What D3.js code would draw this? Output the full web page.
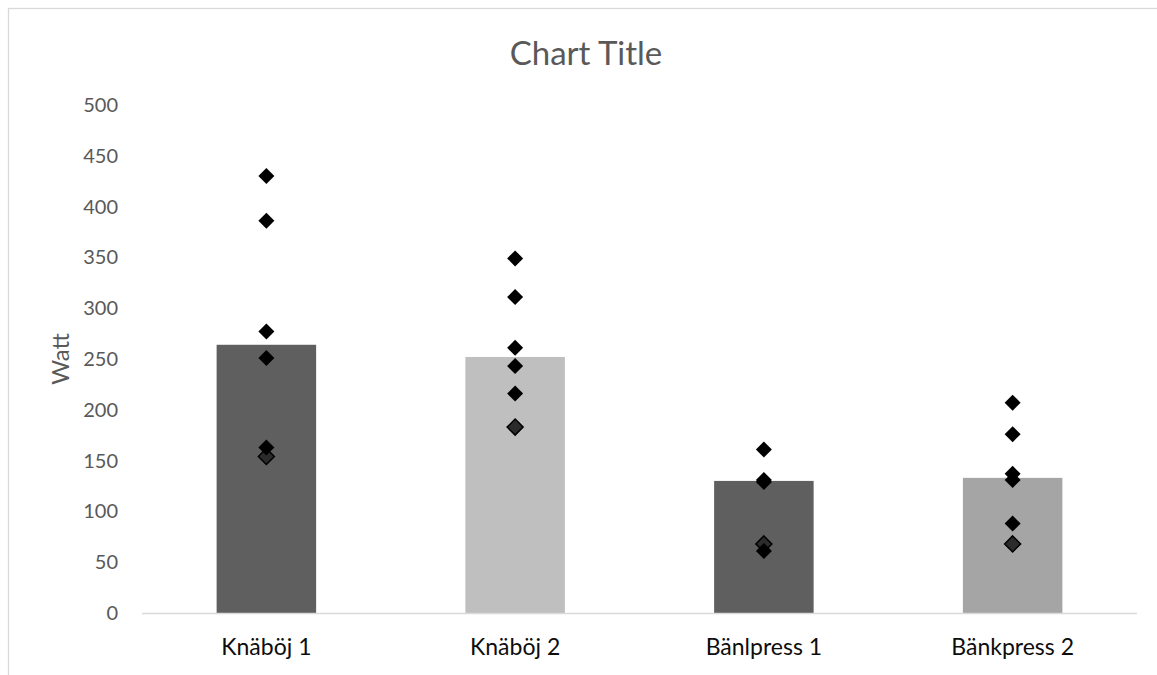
<!DOCTYPE html>
<html>
<head>
<meta charset="utf-8">
<script src="https://cdn.jsdelivr.net/npm/d3@7"></script>
<style>
  html, body { margin: 0; padding: 0; background: #fff; }
  svg { display: block; }
  text { font-family: Lato, "Open Sans", sans-serif; }
</style>
</head>
<body>
<svg id="chart" width="1157" height="675"></svg>
<script>
const categories = ["Knäböj 1", "Knäböj 2", "Bänlpress 1", "Bänkpress 2"];
const barValues = [264, 252, 130, 133];
const barColors = ["#5f5f5f", "#bfbfbf", "#5f5f5f", "#a5a5a5"];
// individual observations per category (first one drawn with dark grey fill)
const points1 = [154, 183, 68, 68];
const pointsRest = [
  [163, 251, 277, 386, 430],
  [216, 243, 261, 311, 349],
  [61, 129, 131, 161],
  [88, 131, 137, 176, 207]
];
const yTicks = [0, 50, 100, 150, 200, 250, 300, 350, 400, 450, 500];
const title = "Chart Title";
const yLabel = "Watt";

const svg = d3.select("#chart");
const W = 1157, H = 675;
const plot = { left: 142, right: 1137, top: 105, bottom: 613 };

// outer chart border
svg.append("rect")
  .attr("x", 8.5).attr("y", 8.5)
  .attr("width", W + 10).attr("height", H + 10)
  .attr("fill", "none").attr("stroke", "#d9d9d9").attr("stroke-width", 1.3);

const x = d3.scaleBand().domain(categories)
  .range([plot.left, plot.right]).paddingInner(0.6).paddingOuter(0.3);
const y = d3.scaleLinear().domain([0, 500]).range([plot.bottom, plot.top]);

// title
svg.append("text")
  .attr("x", 586).attr("y", 65)
  .attr("text-anchor", "middle")
  .attr("font-size", 33).attr("fill", "#595959")
  .text(title);

// y axis label
svg.append("text")
  .attr("transform", `translate(69, 359) rotate(-90)`)
  .attr("text-anchor", "middle")
  .attr("font-size", 24).attr("fill", "#595959")
  .text(yLabel);

// y axis tick labels
const yAxis = d3.axisLeft(y).tickValues(yTicks).tickSize(0).tickPadding(0);
const gy = svg.append("g").attr("transform", `translate(118,0)`).call(yAxis);
gy.select(".domain").remove();
gy.selectAll("text")
  .attr("font-size", 20).attr("fill", "#595959")
  .attr("font-family", "Lato, 'Open Sans', sans-serif");

// bars
svg.append("g").selectAll("rect")
  .data(categories)
  .join("rect")
  .attr("x", d => x(d))
  .attr("width", x.bandwidth())
  .attr("y", (d, i) => y(barValues[i]))
  .attr("height", (d, i) => y(0) - y(barValues[i]))
  .attr("fill", (d, i) => barColors[i]);

// x axis line
svg.append("line")
  .attr("x1", plot.left).attr("x2", plot.right)
  .attr("y1", plot.bottom + 0.5).attr("y2", plot.bottom + 0.5)
  .attr("stroke", "#d9d9d9").attr("stroke-width", 1.3);

// x axis labels
const xAxis = d3.axisBottom(x).tickSize(0).tickPadding(0);
const gx = svg.append("g").attr("transform", `translate(0,647)`).call(xAxis);
gx.select(".domain").remove();
gx.selectAll("text")
  .attr("font-size", 23).attr("fill", "#0d0d0d")
  .attr("y", 0)
  .attr("dy", "0.35em")
  .attr("font-family", "Lato, 'Open Sans', sans-serif");

// diamonds
const diamondPath = "M0,-8L8,0L0,8L-8,0Z";
const gp = svg.append("g");
gp.selectAll("path.p1")
  .data(categories)
  .join("path")
  .attr("class", "p1")
  .attr("d", diamondPath)
  .attr("transform", (d, i) => `translate(${x(d) + x.bandwidth() / 2},${y(points1[i])})`)
  .attr("fill", "#2b2b2b").attr("stroke", "#000").attr("stroke-width", 1.5);

categories.forEach((c, i) => {
  gp.selectAll(`path.pr${i}`)
    .data(pointsRest[i])
    .join("path")
    .attr("class", `pr${i}`)
    .attr("d", diamondPath)
    .attr("transform", v => `translate(${x(c) + x.bandwidth() / 2},${y(v)})`)
    .attr("fill", "#000");
});
</script>
</body>
</html>
